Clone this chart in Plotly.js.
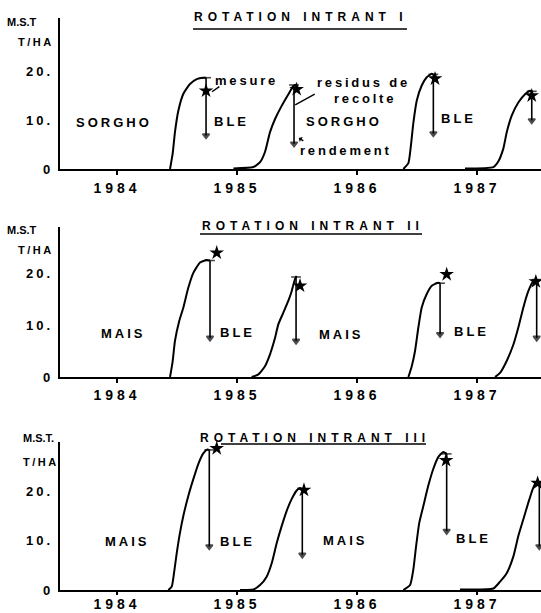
<!DOCTYPE html>
<html><head><meta charset="utf-8">
<script src="https://cdn.plot.ly/plotly-3.0.1.min.js"></script>
<style>html,body{margin:0;padding:0;background:#fff}#chart{width:541px;height:613px}</style>
</head><body><div id="chart"></div>
<script>
// ---------- DATA ----------
const years = [1984, 1985, 1986, 1987];
const yearLabels = ['1984', '1985', '1986', '1987'];
const mstTicks = [0, 10, 20];
const mstTickLabels = ['0', '10.', '20.'];

const titles = ['ROTATION INTRANT I', 'ROTATION INTRANT II', 'ROTATION INTRANT III'];

// Panel 1 : sorgho / blé
const p1Dates = [
  [1984.442, 1984.464, 1984.483, 1984.511, 1984.553, 1984.608, 1984.664, 1984.719, 1984.742],
  [1984.970, 1985.136, 1985.192, 1985.233, 1985.275, 1985.317, 1985.372, 1985.428, 1985.469, 1985.497],
  [1986.386, 1986.428, 1986.448, 1986.469, 1986.498, 1986.539, 1986.581, 1986.623, 1986.636],
  [1986.900, 1987.136, 1987.178, 1987.219, 1987.248, 1987.289, 1987.344, 1987.400, 1987.442, 1987.456]
];
const p1Mst = [
  [0, 3.2, 7.6, 12.0, 15.5, 17.5, 18.5, 18.8, 18.8],
  [0.1, 0.4, 1.4, 3.5, 7.6, 10.3, 13.0, 15.4, 17.1, 17.4],
  [0, 1.2, 4.6, 9.4, 14.1, 17.2, 18.9, 19.6, 19.5],
  [0.1, 0.4, 1.6, 4.2, 7.6, 11.0, 13.7, 15.4, 16.1, 16.0]
];
const p1HarvestDate = [1984.742, 1985.475, 1986.636, 1987.456];
const p1HarvestTop = [18.8, 17.3, 19.5, 16.0];
const p1Yield = [6.9, 5.2, 7.3, 10.0];
const p1MeasureDate = [1984.742, 1985.497, 1986.650, 1987.456];
const p1Measure = [16.1, 16.4, 18.6, 15.1];
const p1Crops = ['SORGHO', 'BLE', 'SORGHO', 'BLE'];

// Panel 2 : maïs / blé
const p2Dates = [
  [1984.442, 1984.464, 1984.483, 1984.519, 1984.553, 1984.594, 1984.636, 1984.692, 1984.748, 1984.775],
  [1985.122, 1985.178, 1985.233, 1985.275, 1985.317, 1985.344, 1985.386, 1985.428, 1985.456, 1985.483, 1985.497],
  [1986.428, 1986.456, 1986.483, 1986.511, 1986.539, 1986.581, 1986.623, 1986.678, 1986.692],
  [1987.150, 1987.192, 1987.247, 1987.303, 1987.344, 1987.386, 1987.428, 1987.469, 1987.497]
];
const p2Mst = [
  [0, 3.1, 7.0, 10.9, 13.5, 17.3, 20.2, 22.2, 22.7, 22.6],
  [0, 0.5, 2.1, 4.4, 7.6, 10.2, 12.5, 14.8, 16.7, 19.0, 19.6],
  [0, 2.1, 5.0, 9.6, 13.5, 16.1, 17.7, 18.3, 18.2],
  [0, 0.8, 3.1, 6.3, 9.6, 13.5, 16.7, 18.6, 19.0]
];
const p2HarvestDate = [1984.775, 1985.492, 1986.692, 1987.497];
const p2HarvestTop = [22.6, 19.4, 18.2, 18.9];
const p2Yield = [7.6, 7.0, 8.3, 7.6];
const p2MeasureDate = [1984.831, 1985.525, 1986.747, 1987.490];
const p2Measure = [24.1, 17.7, 19.9, 18.5];
const p2Crops = ['MAIS', 'BLE', 'MAIS', 'BLE'];

// Panel 3 : maïs / blé
const p3Dates = [
  [1984.428, 1984.456, 1984.475, 1984.498, 1984.525, 1984.553, 1984.594, 1984.636, 1984.678, 1984.719, 1984.753, 1984.769],
  [1985.025, 1985.136, 1985.192, 1985.247, 1985.289, 1985.331, 1985.372, 1985.414, 1985.456, 1985.497, 1985.525, 1985.544],
  [1986.386, 1986.442, 1986.469, 1986.492, 1986.519, 1986.553, 1986.594, 1986.636, 1986.678, 1986.719, 1986.747],
  [1986.858, 1987.136, 1987.192, 1987.247, 1987.303, 1987.344, 1987.386, 1987.428, 1987.464, 1987.492, 1987.519]
];
const p3Mst = [
  [0, 0.7, 3.4, 7.5, 11.6, 15.0, 19.0, 22.4, 25.5, 27.6, 28.4, 28.3],
  [0, 0.1, 1.0, 2.7, 5.4, 9.5, 12.9, 16.0, 18.4, 20.1, 20.6, 20.4],
  [0, 1.0, 4.1, 8.8, 13.6, 17.0, 21.1, 24.5, 26.9, 27.9, 27.5],
  [0.1, 0.3, 1.7, 3.4, 6.8, 10.9, 14.3, 17.7, 20.4, 21.8, 21.4]
];
const p3HarvestDate = [1984.769, 1985.544, 1986.747, 1987.519];
const p3HarvestTop = [28.3, 20.4, 27.5, 21.4];
const p3Yield = [8.8, 7.1, 11.9, 8.8];
const p3MeasureDate = [1984.831, 1985.558, 1986.742, 1987.505];
const p3Measure = [28.6, 20.2, 26.2, 21.6];
const p3Crops = ['MAIS', 'BLE', 'MAIS', 'BLE'];

// ---------- LAYOUT HELPERS ----------
const W = 541, H = 613;
const fx = px => px / W;
const fy = py => 1 - py / H;
const FONT = '"Liberation Sans", Arial, Helvetica, sans-serif';
const sp = (t, ls) => '<span style="letter-spacing:' + ls + 'px">' + t + '</span>';
const BLACK = '#000';

const panels = [
  {dates: p1Dates, mst: p1Mst, hd: p1HarvestDate, ht: p1HarvestTop, hy: p1Yield, md: p1MeasureDate, m: p1Measure,
   crops: p1Crops, cropX: [1983.975, 1984.95, 1985.888, 1986.842], cropY: [9.5, 9.7, 9.75, 10.3],
   ydom: [fy(169), fy(18)], yrange: [0, 31.1], standoff: 1, ticklen: 4,
   title: {x: 300.5, y: 17}, line: {x0: 193, x1: 407, y: 29}},
  {dates: p2Dates, mst: p2Mst, hd: p2HarvestDate, ht: p2HarvestTop, hy: p2Yield, md: p2MeasureDate, m: p2Measure,
   crops: p2Crops, cropX: [1984.058, 1985.004, 1985.867, 1986.95], cropY: [8.5, 8.6, 8.2, 8.9],
   ydom: [fy(377), fy(227)], yrange: [0, 29.1], standoff: 0, ticklen: 4,
   title: {x: 312.5, y: 226}, line: {x0: 200, x1: 422, y: 234}},
  {dates: p3Dates, mst: p3Mst, hd: p3HarvestDate, ht: p3HarvestTop, hy: p3Yield, md: p3MeasureDate, m: p3Measure,
   crops: p3Crops, cropX: [1984.088, 1985.0, 1985.9, 1986.967], cropY: [9.7, 9.9, 10.0, 10.4],
   ydom: [fy(590), fy(442)], yrange: [0, 29.9], standoff: -3, ticklen: 3,
   title: {x: 314.5, y: 438}, line: {x0: 221, x1: 426, y: 444}}
];

const axisLabels = [
  {t1: 'M.S.T', x1: 39, y1: 22, t2: 'T/HA', x2: 56, y2: 42},
  {t1: 'M.S.T', x1: 39, y1: 230, t2: 'T/HA', x2: 56, y2: 250},
  {t1: 'M.S.T.', x1: 56, y1: 438, t2: 'T/HA', x2: 61, y2: 462}
];

const data = [];
const annotations = [];
const shapes = [];
const layout = {
  width: W, height: H, margin: {l: 0, r: 0, t: 0, b: 0},
  paper_bgcolor: '#fff', plot_bgcolor: 'rgba(0,0,0,0)', showlegend: false,
  font: {family: FONT, color: BLACK}, hovermode: false
};

panels.forEach((p, i) => {
  const n = i === 0 ? '' : String(i + 1);
  const xa = 'x' + n, ya = 'y' + n;
  layout['xaxis' + n] = {
    domain: [fx(60), 1], range: [1983.525, 1987.533], anchor: ya,
    tickmode: 'array', tickvals: years, ticktext: yearLabels.map(t => sp(t, 4)),
    showline: true, linecolor: BLACK, linewidth: 2.2,
    ticks: 'outside', ticklen: p.ticklen, tickwidth: 1.5, tickcolor: BLACK,
    showgrid: false, zeroline: false, fixedrange: true,
    tickfont: {family: FONT, size: 14, weight: 'bold', color: BLACK},
    ticklabelstandoff: p.standoff
  };
  layout['yaxis' + n] = {
    domain: p.ydom, range: p.yrange, anchor: xa,
    tickmode: 'array', tickvals: mstTicks, ticktext: mstTickLabels.map(t => sp(t, 3)),
    showline: true, linecolor: BLACK, linewidth: 2.2, ticks: '',
    showgrid: false, zeroline: false, fixedrange: true,
    tickfont: {family: FONT, size: 13, weight: 'bold', color: BLACK},
    ticklabelstandoff: 2
  };

  // growth curves
  p.dates.forEach((d, k) => {
    data.push({x: d, y: p.mst[k], xaxis: xa, yaxis: ya, type: 'scatter', mode: 'lines',
      line: {color: BLACK, width: 2, shape: 'spline', smoothing: 0.5}, hoverinfo: 'skip'});
  });
  // harvest arrows (peak -> rendement)
  p.hd.forEach((d, k) => {
    data.push({x: [d, d], y: [p.ht[k], p.hy[k]], xaxis: xa, yaxis: ya, type: 'scatter', mode: 'lines+markers',
      line: {color: BLACK, width: 1.6},
      marker: {symbol: ['line-ew-open', 'triangle-down'], size: [7, 6], color: BLACK, line: {color: BLACK, width: 1.6}},
      hoverinfo: 'skip', cliponaxis: false});
  });
  // measured points (stars)
  data.push({x: p.md, y: p.m, xaxis: xa, yaxis: ya, type: 'scatter', mode: 'markers',
    marker: {symbol: 'star', size: 11, color: BLACK}, hoverinfo: 'skip', cliponaxis: false});

  // crop labels
  p.crops.forEach((c, k) => {
    annotations.push({xref: xa, yref: ya, x: p.cropX[k], y: p.cropY[k], text: sp(c, 3), showarrow: false,
      xanchor: 'center', yanchor: 'middle', font: {family: FONT, size: 13, weight: 'bold', color: BLACK}});
  });

  // title + underline
  annotations.push({xref: 'paper', yref: 'paper', x: fx(p.title.x), y: fy(p.title.y), text: sp(titles[i], 5),
    showarrow: false, xanchor: 'center', yanchor: 'middle', font: {family: FONT, size: 12, weight: 'bold', color: BLACK}});
  shapes.push({type: 'line', xref: 'paper', yref: 'paper', x0: fx(p.line.x0), x1: fx(p.line.x1),
    y0: fy(p.line.y), y1: fy(p.line.y), line: {color: BLACK, width: 1.6}});

  // axis unit labels
  const a = axisLabels[i];
  annotations.push({xref: 'paper', yref: 'paper', x: fx(a.x1), y: fy(a.y1), text: a.t1, showarrow: false,
    xanchor: 'right', yanchor: 'middle', font: {family: FONT, size: 11, weight: 'bold', color: BLACK}});
  annotations.push({xref: 'paper', yref: 'paper', x: fx(a.x2), y: fy(a.y2), text: sp(a.t2, 2.5), showarrow: false,
    xanchor: 'right', yanchor: 'middle', font: {family: FONT, size: 11, weight: 'bold', color: BLACK}});
});

// explanatory labels in panel 1
const noteFont = {family: FONT, size: 13, weight: 'bold', color: BLACK};
annotations.push({xref: 'x', yref: 'y', x: 1984.80, y: 18.3, text: sp('mesure', 2.8), showarrow: false, xanchor: 'left', yanchor: 'middle', font: noteFont});
annotations.push({xref: 'x', yref: 'y', x: 1985.65, y: 17.9, text: sp('residus de', 2.8), showarrow: false, xanchor: 'left', yanchor: 'middle', font: noteFont});
annotations.push({xref: 'x', yref: 'y', x: 1985.79, y: 14.6, text: sp('recolte', 2.8), showarrow: false, xanchor: 'left', yanchor: 'middle', font: noteFont});
annotations.push({xref: 'x', yref: 'y', x: 1985.505, y: 3.9, text: sp('rendement', 2.8), showarrow: false, xanchor: 'left', yanchor: 'middle', font: noteFont});
// pointer strokes
annotations.push({xref: 'x', yref: 'y', axref: 'x', ayref: 'y', x: p1MeasureDate[0] + 0.05, y: p1Measure[0] - 0.2,
  ax: 1984.865, ay: 17.2, text: '', showarrow: true, arrowhead: 0, arrowwidth: 1.4, arrowcolor: BLACK});
annotations.push({xref: 'x', yref: 'y', axref: 'x', ayref: 'y', x: p1HarvestDate[1] + 0.01, y: 13.2,
  ax: 1985.66, ay: 15.6, text: '', showarrow: true, arrowhead: 0, arrowwidth: 1.4, arrowcolor: BLACK});
annotations.push({xref: 'x', yref: 'y', axref: 'x', ayref: 'y', x: 1985.515, y: 6.4,
  ax: 1985.565, ay: 5.6, text: '', showarrow: true, arrowhead: 1, arrowsize: 0.7, arrowwidth: 1.4, arrowcolor: BLACK});

layout.annotations = annotations;
layout.shapes = shapes;

Plotly.newPlot('chart', data, layout, {staticPlot: true, displayModeBar: false});
</script>
</body></html>
